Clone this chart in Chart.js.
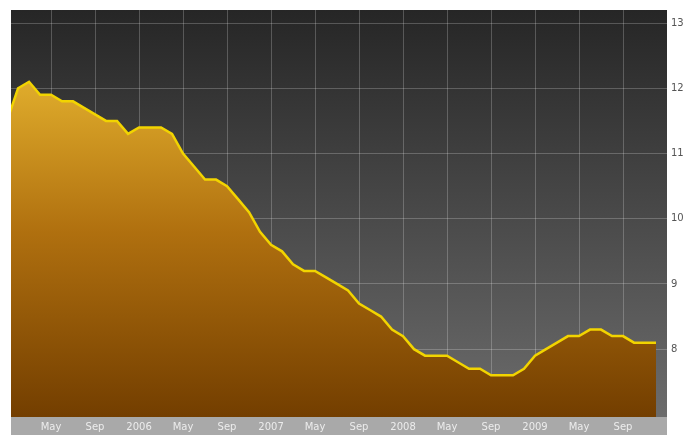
<!DOCTYPE html>
<html>
<head>
<meta charset="utf-8">
<script src="https://cdn.jsdelivr.net/npm/chart.js@4"></script>
<style>
    html, body { margin: 0; padding: 0; background: #ffffff; }
    #chart { display: block; }
</style>
</head>
<body>
<canvas id="chart" width="685" height="435"></canvas>
<script>
// Monthly values, Jan 2005 .. Dec 2009
const years = [2005, 2006, 2007, 2008, 2009];
const monthNames = ['Jan', 'Feb', 'Mar', 'Apr', 'May', 'Jun', 'Jul', 'Aug', 'Sep', 'Oct', 'Nov', 'Dec'];
const rate2005 = [11.5, 12.0, 12.1, 11.9, 11.9, 11.8, 11.8, 11.7, 11.6, 11.5, 11.5, 11.3];
const rate2006 = [11.4, 11.4, 11.4, 11.3, 11.0, 10.8, 10.6, 10.6, 10.5, 10.3, 10.1, 9.8];
const rate2007 = [9.6, 9.5, 9.3, 9.2, 9.2, 9.1, 9.0, 8.9, 8.7, 8.6, 8.5, 8.3];
const rate2008 = [8.2, 8.0, 7.9, 7.9, 7.9, 7.8, 7.7, 7.7, 7.6, 7.6, 7.6, 7.7];
const rate2009 = [7.9, 8.0, 8.1, 8.2, 8.2, 8.3, 8.3, 8.2, 8.2, 8.1, 8.1, 8.1];

// x ticks: months counted from Jan 2006
const xTickMonths = [-8, -4, 0, 4, 8, 12, 16, 20, 24, 28, 32, 36, 40, 44];
const xTickLabels = ['May', 'Sep', '2006', 'May', 'Sep', '2007', 'May', 'Sep', '2008', 'May', 'Sep', '2009', 'May', 'Sep'];
const yTicks = [8, 9, 10, 11, 12, 13];

const categories = [];
years.forEach(y => monthNames.forEach(m => categories.push(m + ' ' + y)));
const values = [].concat(rate2005, rate2006, rate2007, rate2008, rate2009);
const points = values.map((v, i) => ({ x: i - 12, y: v }));

// plot background + gray strip under the x labels
const backdrop = {
    id: 'backdrop',
    beforeDraw(chart) {
        const { ctx, chartArea: a } = chart;
        ctx.save();
        const g = ctx.createLinearGradient(0, a.top, 0, a.bottom);
        g.addColorStop(0, '#262626');
        g.addColorStop(1, '#6c6c6c');
        ctx.fillStyle = g;
        ctx.fillRect(a.left, a.top, a.right - a.left, a.bottom - a.top);
        ctx.fillStyle = '#a9a9a9';
        ctx.fillRect(a.left, a.bottom, a.right - a.left, chart.height - a.bottom);
        ctx.restore();
    }
};

const ctx = document.getElementById('chart').getContext('2d');
new Chart(ctx, {
    type: 'line',
    data: {
        labels: categories,
        datasets: [{
            label: 'Rate',
            data: points,
            borderColor: '#f2d400',
            borderWidth: 2.5,
            pointRadius: 0,
            tension: 0,
            fill: 'start',
            backgroundColor: (c) => {
                const a = c.chart.chartArea;
                if (!a) return '#b57514';
                const g = c.chart.ctx.createLinearGradient(0, 80, 0, a.bottom);
                g.addColorStop(0, '#e0ad2c');
                g.addColorStop(0.45, '#b0700f');
                g.addColorStop(1, '#733e00');
                return g;
            }
        }]
    },
    options: {
        responsive: false,
        animation: false,
        devicePixelRatio: 1,
        layout: { padding: { left: 11, top: 10, right: 0, bottom: 0 } },
        plugins: {
            legend: { display: false },
            tooltip: { enabled: false }
        },
        scales: {
            x: {
                type: 'linear',
                min: -11.64,
                max: 48,
                z: 1,
                afterBuildTicks: s => { s.ticks = xTickMonths.map(v => ({ value: v })); },
                afterFit: s => { s.height = 18; },
                border: { display: false },
                grid: { color: 'rgba(255,255,255,0.22)', lineWidth: 1, drawTicks: false },
                ticks: {
                    autoSkip: false,
                    maxRotation: 0,
                    padding: 4,
                    color: '#ececec',
                    font: { family: 'DejaVu Sans', size: 10 },
                    callback: v => xTickLabels[xTickMonths.indexOf(v)]
                }
            },
            y: {
                position: 'right',
                min: 6.96,
                max: 13.2,
                z: 1,
                afterBuildTicks: s => { s.ticks = yTicks.map(v => ({ value: v })); },
                afterFit: s => { s.width = 18; },
                border: { display: false },
                grid: { color: 'rgba(255,255,255,0.22)', lineWidth: 1, drawTicks: false },
                ticks: {
                    padding: 4,
                    color: '#555555',
                    font: { family: 'DejaVu Sans', size: 10 }
                }
            }
        }
    },
    plugins: [backdrop]
});
</script>
</body>
</html>
